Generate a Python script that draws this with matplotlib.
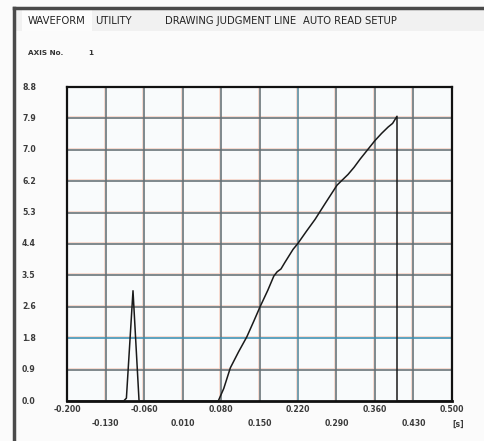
import matplotlib
matplotlib.use("Agg")
import matplotlib.pyplot as plt
import matplotlib.transforms as mtransforms
import numpy as np

# ---- data ----
y_ticks = [0.0, 0.88, 1.76, 2.64, 3.52, 4.40, 5.28, 6.16, 7.04, 7.92, 8.80]
y_tick_labels = ["0.0", "0.9", "1.8", "2.6", "3.5", "4.4", "5.3", "6.2", "7.0", "7.9", "8.8"]
x_ticks = [-0.200, -0.130, -0.060, 0.010, 0.080, 0.150, 0.220, 0.290, 0.360, 0.430, 0.500]
x_tick_labels = ["-0.200", "-0.130", "-0.060", "0.010", "0.080", "0.150", "0.220", "0.290", "0.360", "0.430", "0.500"]

spike_x = [-0.200, -0.097, -0.092, -0.080, -0.069, 0.075]
spike_y = [0.0, 0.0, 0.08, 3.09, 0.0, 0.0]

wave_x = [0.075, 0.085, 0.097, 0.112, 0.127, 0.140, 0.151, 0.165, 0.176, 0.182,
          0.189, 0.196, 0.211, 0.220, 0.235, 0.251, 0.270, 0.291, 0.311, 0.322,
          0.333, 0.347, 0.360, 0.372, 0.384, 0.392, 0.400, 0.400, 0.500]
wave_y = [0.0, 0.35, 0.93, 1.38, 1.80, 2.25, 2.64, 3.10, 3.50, 3.62,
          3.70, 3.88, 4.25, 4.42, 4.75, 5.09, 5.55, 6.05, 6.35, 6.55,
          6.78, 7.05, 7.30, 7.50, 7.68, 7.78, 7.98, 0.0, 0.0]

tabs = ["WAVEFORM", "UTILITY", "DRAWING JUDGMENT LINE", "AUTO READ SETUP"]

W, H = 485, 441
fig = plt.figure(figsize=(W / 100, H / 100), dpi=100)
fig.patch.set_facecolor("#fbfbfb")

def px(x, y):
    return x / W, 1 - y / H

# frame border and tab strip
fig.add_artist(plt.Rectangle(px(14, 31), (W - 14) / W, 23 / H, transform=fig.transFigure,
                             facecolor="#f1f1f1", edgecolor="none"))
fig.add_artist(plt.Rectangle(px(22, 31), 70 / W, 23 / H, transform=fig.transFigure,
                             facecolor="#fcfcfc", edgecolor="none"))
fig.add_artist(plt.Line2D([14 / W, 14 / W], [0, 1 - 8 / H], transform=fig.transFigure,
                          color="#4a4a4a", lw=2.5))
fig.add_artist(plt.Line2D([14 / W, 1], [1 - 8 / H, 1 - 8 / H], transform=fig.transFigure,
                          color="#4a4a4a", lw=2.5))

tab_x = [28, 95, 165, 303]
for t, xx in zip(tabs, tab_x):
    fig.text(*px(xx, 21), t, fontsize=7.2, color="#222222", va="center", ha="left",
             family="DejaVu Sans")
fig.text(*px(28, 53), "AXIS No.", fontsize=5.2, fontweight="bold", color="#333333",
         va="center", ha="left")
fig.text(*px(88, 53), "1", fontsize=5.2, fontweight="bold", color="#333333",
         va="center", ha="left")

ax = fig.add_axes([67 / W, 1 - 401 / H, (452 - 67) / W, (401 - 87) / H])
ax.set_facecolor("#f9fbfc")
ax.set_xlim(-0.2, 0.5)
ax.set_ylim(0, 8.8)

# grid lines (gray with a faint orange companion)
off_x = mtransforms.ScaledTranslation(-2 / 100, 0, fig.dpi_scale_trans)
off_y = mtransforms.ScaledTranslation(0, 2 / 100, fig.dpi_scale_trans)
xt = ax.get_xaxis_transform()
yt = ax.get_yaxis_transform()
for xv in x_ticks[1:-1]:
    col = "#55889c" if abs(xv - 0.220) < 1e-9 else "#646f74"
    ax.plot([xv, xv], [0, 1], color="#f5cdbd", lw=0.5, transform=xt + off_x, zorder=1)
    ax.plot([xv, xv], [0, 1], color=col, lw=1.15, transform=xt, zorder=1.5)
for yv in y_ticks[1:-1]:
    col = "#3a8fb2" if abs(yv - 1.76) < 1e-9 else "#646f74"
    ax.plot([0, 1], [yv, yv], color="#f5cdbd", lw=0.5, transform=yt + off_y, zorder=1)
    ax.plot([0, 1], [yv, yv], color=col, lw=1.15, transform=yt, zorder=1.5)

ax.plot(spike_x, spike_y, color="#1a1a1a", lw=1.1, zorder=3)
ax.plot(wave_x, wave_y, color="#1a1a1a", lw=1.1, zorder=3)

for s in ax.spines.values():
    s.set_color("#111111")
    s.set_linewidth(1.6)
ax.spines["bottom"].set_linewidth(2.0)

ax.set_xticks([])
ax.set_yticks([])

tick_kw = dict(fontsize=5.6, fontweight="bold", color="#3a3a3a")
for yv, lab in zip(y_ticks, y_tick_labels):
    ax.text(-0.2, yv, lab, transform=ax.transData + mtransforms.ScaledTranslation(-45 / 100, 0, fig.dpi_scale_trans),
            ha="left", va="center", **tick_kw)
for i, (xv, lab) in enumerate(zip(x_ticks, x_tick_labels)):
    dy = -9 if i % 2 == 0 else -22
    ax.text(xv, 0, lab, transform=ax.transData + mtransforms.ScaledTranslation(0, dy / 100, fig.dpi_scale_trans),
            ha="center", va="center", **tick_kw)
ax.text(0.5, 0, "[s]", transform=ax.transData + mtransforms.ScaledTranslation(6 / 100, -23 / 100, fig.dpi_scale_trans),
        ha="center", va="center", **tick_kw)

fig.savefig("out.png", dpi=100, facecolor=fig.get_facecolor())
